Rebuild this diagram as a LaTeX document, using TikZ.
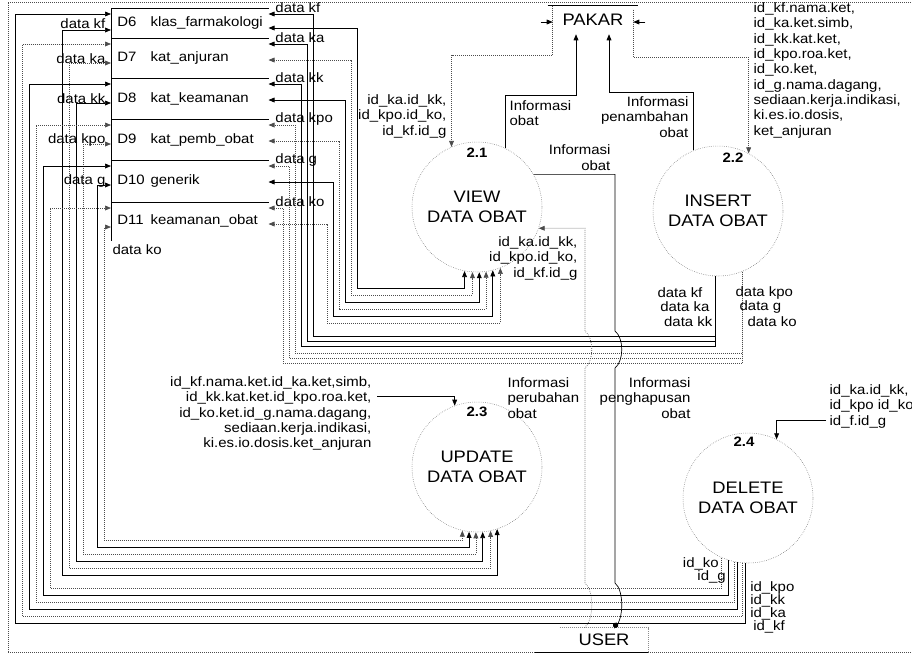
\documentclass[tikz,border=0pt]{standalone}
\usepackage{fontspec}
\setmainfont{Liberation Sans}[FakeStretch=1.1]
\usetikzlibrary{arrows.meta,positioning}
\newcommand\lbf{\fontsize{10.2}{11.5}\selectfont}
\newcommand\prf{\fontsize{12.5}{15}\selectfont}
\begin{document}
\begin{tikzpicture}[x=0.75pt,y=-0.75pt,
    st/.style={rectangle,minimum width=117.75pt,inner xsep=4.5pt,
               text width=108.75pt,align=left,anchor=north west,font=\lbf},
    pr/.style={circle,draw=black!60,densely dotted,minimum size=97.5pt,inner sep=0pt,
               align=center,font=\prf},
    ent/.style={rectangle,inner sep=0pt,font=\prf},
    lb/.style={inner sep=1pt,font=\lbf},
    sl/.style={inner sep=0pt,font=\lbf},
    num/.style={inner sep=1pt,font=\bfseries\lbf},
    ln/.style={line width=0.5pt},
    dl/.style={line width=0.5pt,black!70,densely dotted},
    ar/.style={-{Triangle[length=4.5pt,width=3.6pt]}},
    ar2/.style={{Triangle[length=4.5pt,width=3.6pt]}-{Triangle[length=4.5pt,width=3.6pt]}}]
  \useasboundingbox (0,0) rectangle (912,662);
  % frame
  \draw[dl] (8,652) -- (8,2) -- (912,2);
  \draw[dl] (8,652) -- (912,652);

  % data stores
  \node[st,minimum height=22.5pt](d6) at (111,8) {\makebox[25pt][l]{D6}klas\_farmakologi};
  \node[st,minimum height=30pt](d7) at (111,38) {\makebox[25pt][l]{D7}kat\_anjuran};
  \node[st,minimum height=30.75pt](d8) at (111,78) {\makebox[25pt][l]{D8}kat\_keamanan};
  \node[st,minimum height=30.75pt](d9) at (111,119) {\makebox[25pt][l]{D9}kat\_pemb\_obat};
  \node[st,minimum height=31.5pt](d10) at (111,160) {\makebox[25pt][l]{D10}generik};
  \node[st,minimum height=28.5pt](d11) at (111,202) {\makebox[25pt][l]{D11}keamanan\_obat};
  \foreach \s in {d6,d7,d8,d9,d10,d11}
    \draw[ln] (\s.north east) -- (\s.north west) -- (\s.south west);

  \node[lb,left=3pt of d6.west]{data kf};
  \node[lb,left=3pt of d7.west]{data ka};
  \node[lb,left=3pt of d8.west]{data kk};
  \node[lb,left=3pt of d9.west]{data kpo};
  \node[lb,left=3pt of d10.west]{data g};
  \node[lb,anchor=west] at ([yshift=-7pt]d11.south west) {data ko};
  \node[lb,anchor=west] at ([xshift=4pt]d6.north east) {data kf};
  \node[lb,anchor=west] at ([xshift=4pt]d7.north east) {data ka};
  \node[lb,anchor=west] at ([xshift=4pt]d8.north east) {data kk};
  \node[lb,anchor=west] at ([xshift=4pt]d9.north east) {data kpo};
  \node[lb,anchor=west] at ([xshift=4pt]d10.north east) {data g};
  \node[lb,anchor=west] at ([xshift=4pt]d11.north east) {data ko};

  % processes and entities
  \node[pr](view) at (477,207) {VIEW\\DATA OBAT};
  \node[num] at ([yshift=-8pt]view.north) {2.1};
  \node[pr](ins) at (718,211) {INSERT\\DATA OBAT};
  \node[num] at (733,158) {2.2};
  \node[pr](upd) at (477,467) {UPDATE\\DATA OBAT};
  \node[num] at ([yshift=-7.5pt]upd.north) {2.3};
  \node[pr](del) at (748,498) {DELETE\\DATA OBAT};
  \node[num] at (744,442) {2.4};
  \node[ent,minimum width=60pt,minimum height=21pt](pakar) at (593,20) {PAKAR};
  \draw[ln] ([xshift=-3.75pt]pakar.north west) -- ([xshift=3.75pt]pakar.north east);
  \draw[dl] (pakar.north west) -- (pakar.south west);
  \draw[dl] ([yshift=-3pt]pakar.north east) -- (pakar.south east);
  \node[ent,minimum width=66pt,minimum height=18pt](user) at (604,640) {USER};
  \draw[ln] ([xshift=-18.75pt]user.south west) -- (user.south east);
  \draw[dl,black!45] (user.north west) -- (user.north east) -- (user.south east);

  % PAKAR flows
  \draw[ln,ar] ([xshift=-9pt,yshift=-1.5pt]pakar.west) -- ([yshift=-1.5pt]pakar.west);
  \draw[ln,ar] ([xshift=9pt,yshift=-1.5pt]pakar.east) -- ([yshift=-1.5pt]pakar.east);
  \draw[dl,ar] (pakar.south west) -- ++(0,21) -| (view.113);
  \node[lb,anchor=north east,align=right] at (448,93) {id\_ka.id\_kk,\\id\_kpo.id\_ko,\\id\_kf.id\_g};
  \draw[ln,ar] (view.64) |- (576,95) -- ([xshift=-12.75pt]pakar.south);
  \node[lb,anchor=north west,align=left] at (508,99) {Informasi\\obat};
  \draw[ln,ar] (ins.112) |- (609,92) -- ([xshift=12pt]pakar.south);
  \node[lb,anchor=north east,align=right] at (690,95) {Informasi\\penambahan\\obat};
  \draw[dl,ar] (pakar.south east) -- ++(0,23) -| (ins.62);
  \node[lb,anchor=north west,align=left] at (752,1) {id\_kf.nama.ket,\\id\_ka.ket.simb,\\id\_kk.kat.ket,\\
    id\_kpo.roa.ket,\\id\_ko.ket,\\id\_g.nama.dagang,\\sediaan.kerja.indikasi,\\ki.es.io.dosis,\\ket\_anjuran};

  % INSERT -> stores
  \draw[ln,ar] (ins.-92) |- (313,336) |- ([yshift=-4.5pt]d6.north east);
  \draw[ln,ar] (ins.-92) |- (307,341) |- ([yshift=-4.5pt]d7.north east);
  \draw[ln,ar] (ins.-92) |- (301,346) |- ([yshift=-4.5pt]d8.north east);
  \draw[dl,ar] (ins.-68) |- (295,353) |- ([yshift=-4.5pt]d9.north east);
  \draw[dl,ar] (ins.-68) |- (289,358) |- ([yshift=-4.5pt]d10.north east);
  \draw[dl,ar] (ins.-68) |- (283,363) |- ([yshift=-4.5pt]d11.north east);
  \node[lb,anchor=east] at (704,293) {data kf};
  \node[lb,anchor=east] at (711,307) {data ka};
  \node[lb,anchor=east] at (714,322) {data kk};
  \node[lb,anchor=west] at (734,293) {data kpo};
  \node[lb,anchor=west] at (738,307) {data g};
  \node[lb,anchor=west] at (746,322) {data ko};

  % stores <-> VIEW
  \draw[ln,ar2] ([yshift=-15pt]d6.north east) -| (357,288) -| (view.-101);
  \draw[dl,ar2] ([yshift=-16.5pt]d7.north east) -| (351,295) -| (view.-94);
  \draw[ln,ar2] ([yshift=-16.5pt]d8.north east) -| (345,302) -| (view.-88);
  \draw[dl,ar2] ([yshift=-16.5pt]d9.north east) -| (339,309) -| (view.-82);
  \draw[ln,ar2] ([yshift=-16.5pt]d10.north east) -| (333,316) -| (view.-76);
  \draw[dl,ar2] ([yshift=-16.5pt]d11.north east) -| (327,323) -| (view.-69);
  \node[lb,anchor=north east,align=right] at (579,235) {id\_ka.id\_kk,\\id\_kpo.id\_ko,\\id\_kf.id\_g};

  % USER <-> VIEW
  \draw[dl,ar] ([xshift=18.75pt]user.north west) -- (585,627) .. controls (594,620) and (594,590) .. (585,583)
    -- (585,368) .. controls (594,361) and (594,338) .. (585,331) |- (view.-19);
  \draw[ln,-{Circle[length=4pt]}] (view.30) -| (615,331) .. controls (624,338) and (624,361) .. (615,368)
    -- (615,583) .. controls (624,590) and (624,620) .. (615,627) -- ([xshift=41.25pt]user.north west);
  \node[lb,anchor=south east,align=right] at (612,172) {Informasi\\obat};
  \node[lb,anchor=north west,align=left] at (506,376) {Informasi\\perubahan\\obat};
  \node[lb,anchor=north east,align=right] at (692,376) {Informasi\\penghapusan\\obat};

  % UPDATE
  \coordinate (updin) at (377,396);
  \draw[ln,ar] (updin) -| (upd.110);
  \node[lb,anchor=north east,align=right] at (373,375) {id\_kf.nama.ket.id\_ka.ket,simb,\\
    id\_kk.kat.ket.id\_kpo.roa.ket,\\id\_ko.ket.id\_g.nama.dagang,\\sediaan.kerja.indikasi,\\ki.es.io.dosis.ket\_anjuran};
  \draw[ln,ar2] ([yshift=-16.5pt]d6.north west) -| (62,575) -| (upd.-72);
  \draw[dl,ar2] ([yshift=-18.75pt]d7.north west) -| (69,568) -| (upd.-78);
  \draw[ln,ar2] ([yshift=-18.75pt]d8.north west) -| (76,561) -| (upd.-85);
  \draw[dl,ar2] ([yshift=-18.75pt]d9.north west) -| (83,554) -| (upd.-91);
  \draw[ln,ar2] ([yshift=-18.75pt]d10.north west) -| (97,547) -| (upd.-97);
  \draw[dl,ar2] ([yshift=-18.75pt]d11.north west) -| (104,540) -| (upd.-103);

  % DELETE
  \coordinate (delin) at (826,420);
  \draw[ln,ar] (delin) -| (del.64);
  \node[lb,anchor=north west,align=left] at (828,383) {id\_ka.id\_kk,\\id\_kpo id\_ko\\id\_f.id\_g};
  \draw[ln,ar] (del.-92) |- (15,623) |- ([yshift=-4.5pt]d6.north west);
  \draw[dl,ar] (del.-95) |- (22,616) |- ([yshift=-4.5pt]d7.north west);
  \draw[ln,ar] (del.-99) |- (29,609) |- ([yshift=-4.5pt]d8.north west);
  \draw[dl,ar] (del.-102) |- (36,602) |- ([yshift=-4.5pt]d9.north west);
  \draw[ln,ar] (del.-108) |- (43,595) |- ([yshift=-4.5pt]d10.north west);
  \draw[dl,ar] (del.-114) |- (50,588) |- ([yshift=-4.5pt]d11.north west);
  \node[sl,anchor=east] at (719,564) {id\_ko};
  \node[sl,anchor=east] at (726,577) {id\_g};
  \node[sl,anchor=west] at (750,588) {id\_kpo};
  \node[sl,anchor=west] at (750,601) {id\_kk};
  \node[sl,anchor=west] at (750,614) {id\_ka};
  \node[sl,anchor=west] at (753,627) {id\_kf};
\end{tikzpicture}
\end{document}
